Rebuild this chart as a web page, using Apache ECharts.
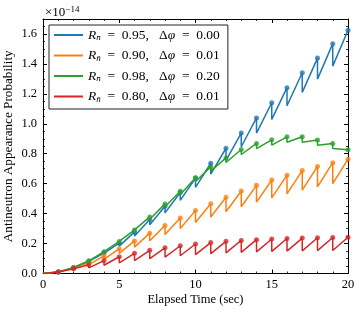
<!DOCTYPE html>
<html><head><meta charset="utf-8">
<script src="https://cdn.jsdelivr.net/npm/echarts@6/dist/echarts.min.js"></script>
<style>html,body{margin:0;padding:0;background:#fff}#c{width:363px;height:313px}</style>
</head><body><div id="c"></div>
<script>
// Elapsed time at each reflection (sec)
const timeSec = [1,2,3,4,5,6,7,8,9,10,11,12,13,14,15,16,17,18,19,20];
// Peak values (x1e-14) just before each reflection
const bluePeak   = [0.0099,0.0376,0.0806,0.1363,0.2027,0.2779,0.3604,0.4486,0.5414,0.6376,0.7363,0.8366,0.9379,1.0394,1.1407,1.2413,1.3408,1.4389,1.5352,1.625];
const orangePeak = [0.0099,0.0357,0.0727,0.1171,0.1660,0.2174,0.2694,0.3211,0.3715,0.4200,0.4662,0.5098,0.5507,0.5889,0.6243,0.6571,0.6873,0.7151,0.7406,0.7639];
const greenPeak  = [0.010,0.040,0.085,0.146,0.214,0.291,0.378,0.465,0.549,0.640,0.712,0.772,0.828,0.869,0.893,0.913,0.913,0.892,0.869,0.826];
const redPeak    = [0.0099,0.0321,0.0589,0.0863,0.1119,0.1347,0.1546,0.1714,0.1855,0.1972,0.2068,0.2147,0.2210,0.2262,0.2304,0.2338,0.2365,0.2387,0.2404,0.2418];
// Values just after each reflection drop (t = 1..19)
const blueLow   = [0.0089,0.0339,0.0727,0.1230,0.1829,0.2508,0.3253,0.4049,0.4886,0.5754,0.6645,0.7550,0.8465,0.9381,1.0295,1.1203,1.2101,1.2986,1.3855];
const orangeLow = [0.0080,0.0289,0.0589,0.0949,0.1345,0.1761,0.2182,0.2601,0.3009,0.3402,0.3776,0.4129,0.4461,0.4770,0.5057,0.5323,0.5567,0.5792,0.5999];
const greenLow  = [0.0096,0.0384,0.0816,0.1402,0.2054,0.2794,0.3629,0.4464,0.5270,0.6144,0.6835,0.7411,0.7949,0.8342,0.8573,0.8765,0.8765,0.8563,0.8342];
const redLow    = [0.0063,0.0205,0.0377,0.0552,0.0716,0.0862,0.0989,0.1097,0.1187,0.1262,0.1324,0.1374,0.1414,0.1448,0.1475,0.1496,0.1514,0.1528,0.1539];
const seriesNames = ['b','o','g','r'];
const legendValues = [['0.95','0.00'],['0.90','0.01'],['0.98','0.20'],['0.80','0.01']];
const colors = ['#1f77b4','#ff7f0e','#2ca02c','#d62728'];
const yTicks = [0,0.2,0.4,0.6,0.8,1.0,1.2,1.4,1.6];

const FONT = "'Liberation Serif','DejaVu Serif',serif";
function buildLine(peaks, lows){
  const d = [[0,0]];
  for (let i=0;i<timeSec.length;i++){
    d.push([timeSec[i], peaks[i]]);
    if (i < lows.length) d.push([timeSec[i], lows[i]]);
  }
  return d;
}
function buildPts(peaks){ return timeSec.map((t,i)=>[t,peaks[i]]); }
const peaksAll = [bluePeak,orangePeak,greenPeak,redPeak];
const lowsAll = [blueLow,orangeLow,greenLow,redLow];

const series = [];
seriesNames.forEach((n,k)=>{
  series.push({name:n,type:'line',data:buildLine(peaksAll[k],lowsAll[k]),symbol:'none',
    lineStyle:{color:colors[k],width:1.5},itemStyle:{color:colors[k]},z:2+k,clip:true});
});
seriesNames.forEach((n,k)=>{
  series.push({type:'scatter',data:buildPts(peaksAll[k]),symbol:'circle',symbolSize:5,
    itemStyle:{color:colors[k]},z:2+k,clip:true,silent:true});
});

const axisCommon = {
  axisLine:{show:true,onZero:false,lineStyle:{color:'#000',width:1}},
  axisTick:{show:true,inside:true,length:4,lineStyle:{color:'#000',width:1}},
  minorTick:{show:true,length:2,lineStyle:{color:'#000',width:0.8}},
  splitLine:{show:false}
};
const chart = echarts.init(document.getElementById('c'),null,{renderer:'canvas'});
chart.setOption({
  animation:false,
  backgroundColor:'#fff',
  grid:{left:43,right:15,top:19,bottom:39.5,containLabel:false,outerBoundsMode:'none'},
  xAxis:[
    Object.assign({type:'value',min:0,max:20,interval:5,position:'bottom',
      axisLabel:{margin:5,color:'#000',fontFamily:FONT,fontSize:12.5},
      name:'Elapsed Time (sec)',nameLocation:'middle',nameGap:20,nameMoveOverlap:false,
      nameTextStyle:{color:'#000',fontFamily:FONT,fontSize:12.5}},axisCommon,
      {minorTick:Object.assign({},axisCommon.minorTick,{splitNumber:5})}),
    Object.assign({type:'value',min:0,max:20,interval:5,position:'top',axisLabel:{show:false}},axisCommon,
      {minorTick:Object.assign({},axisCommon.minorTick,{splitNumber:5})})
  ],
  yAxis:[
    Object.assign({type:'value',min:0,max:1.7,interval:0.2,position:'left',
      axisLabel:{margin:6,color:'#000',fontFamily:FONT,fontSize:12.5,showMaxLabel:false,
        formatter:v=>yTicks.some(t=>Math.abs(t-v)<1e-9)?v.toFixed(1):''},
      name:'Antineutron Appearance Probability',nameLocation:'middle',nameGap:28,nameMoveOverlap:false,
      nameTextStyle:{color:'#000',fontFamily:FONT,fontSize:13.2}},axisCommon,
      {minorTick:Object.assign({},axisCommon.minorTick,{splitNumber:4})}),
    Object.assign({type:'value',min:0,max:1.7,interval:0.2,position:'right',axisLabel:{show:false}},axisCommon,
      {minorTick:Object.assign({},axisCommon.minorTick,{splitNumber:4})})
  ],
  legend:{
    data:seriesNames,orient:'vertical',left:49,top:25,
    icon:'rect',itemWidth:29,itemHeight:2,itemGap:6,itemTextGap:9,
    padding:[3,8,5,5],backgroundColor:'#fff',borderColor:'#222',borderWidth:1,borderRadius:0,
    textStyle:{color:'#000',fontFamily:FONT,fontSize:13.5,lineHeight:14,
      rich:{i:{fontStyle:'italic',fontFamily:FONT,fontSize:13.5},
            sub:{fontStyle:'italic',fontFamily:FONT,fontSize:9,padding:[6,0,0,0]}}},
    formatter:n=>{const k=seriesNames.indexOf(n);
      return '{i|R}{sub|n\u0304}  =  '+legendValues[k][0]+',   \u0394{i|φ}  =  '+legendValues[k][1];}
  },
  graphic:[{type:'text',left:45,top:5,style:{text:'×10{sup|−14}',fill:'#000',font:"13px "+FONT,
    rich:{sup:{fontSize:9,fontFamily:FONT,padding:[0,0,7,0]}}}}],
  series:series
});
</script></body></html>
